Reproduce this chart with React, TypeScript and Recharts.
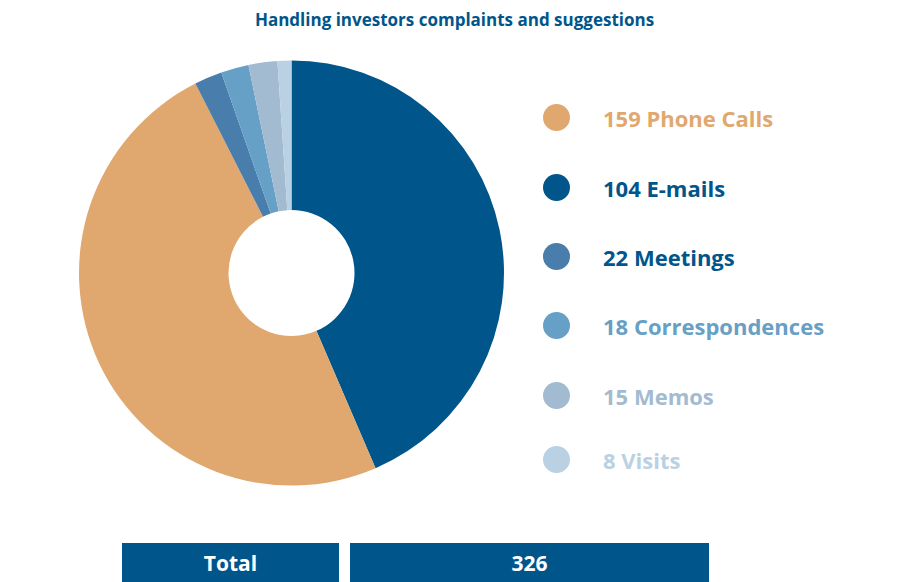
import React from 'react';
import { PieChart, Pie, Cell } from 'recharts';

const categories = ['E-mails', 'Phone Calls', 'Meetings', 'Correspondences', 'Memos', 'Visits'];
const counts = [104, 159, 22, 18, 15, 8];
// slice sizes as drawn in the picture (angular share, degrees)
const sliceShares = [156.7, 176.4, 7.6, 7.6, 7.9, 3.8];
const sliceColors = ['#00568A', '#E0A86E', '#497DAB', '#67A0C6', '#A2BBD0', '#B9D1E2'];
const textColors = ['#00568A', '#E0A86E', '#00568A', '#67A0C6', '#A2BBD0', '#B9D1E2'];
const legendOrder = [1, 0, 2, 3, 4, 5];
const legendY = [117, 187, 256, 325, 395, 459];
const title = 'Handling investors complaints and suggestions';
const totalLabel = 'Total';
const totalValue = 326;

const data = categories.map((c, i) => ({ name: c, value: sliceShares[i] }));

const font = '"Open Sans", "Noto Sans", sans-serif';

export default function App() {
  return (
    <div style={{ position: 'absolute', left: 0, top: 0, width: 909, height: 582, background: '#fff', fontFamily: font, overflow: 'hidden' }}>
      <div style={{ position: 'absolute', left: 0, top: 8, width: 909, textAlign: 'center', fontSize: 17, fontWeight: 700, color: '#00568A', lineHeight: '24px' }}>
        {title}
      </div>
      <div style={{ position: 'absolute', left: 0, top: 0 }}>
        <PieChart width={909} height={582} margin={{ top: 0, right: 0, bottom: 0, left: 0 }}>
          <Pie
            data={data}
            dataKey="value"
            nameKey="name"
            cx={291.5}
            cy={273}
            innerRadius={63}
            outerRadius={212.5}
            startAngle={90}
            endAngle={-270}
            stroke="none"
            isAnimationActive={false}
          >
            {data.map((d, i) => (
              <Cell key={d.name} fill={sliceColors[i]} />
            ))}
          </Pie>
        </PieChart>
      </div>
      {legendOrder.map((idx, k) => (
        <div key={categories[idx]} style={{ position: 'absolute', left: 543, top: legendY[k] - 14, height: 28, display: 'flex', alignItems: 'center' }}>
          <div style={{ width: 27, height: 27, borderRadius: '50%', background: sliceColors[idx] }} />
          <div style={{ marginLeft: 33, fontSize: 22, fontWeight: 700, color: textColors[idx], whiteSpace: 'nowrap', lineHeight: '28px', position: 'relative', top: 1 }}>
            {counts[idx]} {categories[idx]}
          </div>
        </div>
      ))}
      <div style={{ position: 'absolute', left: 122, top: 543, width: 217, height: 39, background: '#00568A', color: '#fff', fontSize: 21, fontWeight: 700, display: 'flex', alignItems: 'center', justifyContent: 'center' }}>
        {totalLabel}
      </div>
      <div style={{ position: 'absolute', left: 350, top: 543, width: 359, height: 39, background: '#00568A', color: '#fff', fontSize: 21, fontWeight: 700, display: 'flex', alignItems: 'center', justifyContent: 'center' }}>
        {totalValue}
      </div>
    </div>
  );
}
